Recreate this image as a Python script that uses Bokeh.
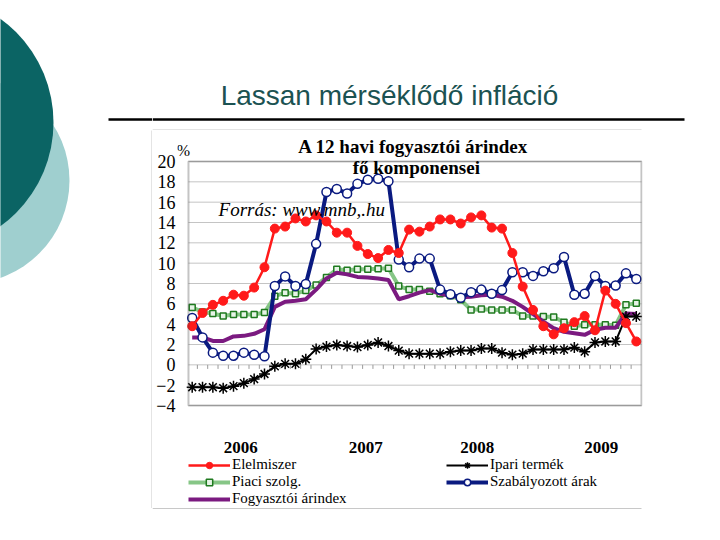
from bokeh.plotting import figure
from bokeh.models import Range1d, Label, Legend, LegendItem, FixedTicker, BoxAnnotation
from bokeh.layouts import row, column
from bokeh.embed import file_html
from bokeh.resources import INLINE
from bokeh.core.properties import value

# ---- data: monthly, Jan 2006 .. Aug 2009 ----
months = list(range(44))
elelmiszer = [3.8, 5.1, 5.9, 6.3, 6.9, 6.8, 7.6, 9.6, 13.4, 13.6, 14.4, 14.1,
              14.7, 14.1, 13.0, 13.0, 11.7, 10.9, 10.5, 11.3, 11.0, 13.3, 13.1, 13.6,
              14.3, 14.3, 13.9, 14.5, 14.7, 13.5, 13.4, 11.0, 7.7, 5.4, 3.8, 3.0,
              3.6, 4.2, 4.8, 3.4, 7.3, 6.0, 4.1, 2.3]
ipari = [-2.2, -2.2, -2.2, -2.3, -2.1, -1.8, -1.4, -0.9, -0.15, 0.1, 0.1, 0.55,
         1.55, 1.8, 1.95, 1.85, 1.75, 1.95, 2.2, 1.85, 1.4, 1.1, 1.1, 1.1,
         1.1, 1.3, 1.4, 1.4, 1.6, 1.6, 1.2, 1.0, 1.1, 1.5, 1.5, 1.5,
         1.5, 1.7, 1.3, 2.2, 2.3, 2.3, 4.75, 4.75]
piaci = [5.65, 5.2, 5.05, 4.8, 4.95, 4.95, 4.95, 5.15, 6.75, 7.1, 7.0, 7.3,
         7.85, 8.6, 9.4, 9.3, 9.4, 9.4, 9.45, 9.5, 7.75, 7.4, 7.4, 7.25,
         7.0, 6.8, 6.4, 5.4, 5.5, 5.4, 5.4, 5.4, 4.8, 4.8, 4.75, 4.7,
         4.2, 3.8, 3.95, 3.95, 3.95, 3.9, 5.9, 6.05]
szabalyozott = [4.6, 2.7, 1.2, 0.9, 0.9, 1.2, 1.0, 0.85, 7.75, 8.7, 7.75, 7.95,
                11.9, 17.0, 17.3, 16.85, 17.8, 18.2, 18.3, 18.05, 10.35, 9.6, 10.45, 10.45,
                7.4, 6.95, 6.6, 7.15, 7.4, 7.0, 7.35, 9.1, 9.1, 8.75, 9.2, 9.5,
                10.6, 6.9, 7.0, 8.75, 7.75, 7.8, 9.0, 8.45]
fogyasztoi = [2.7, 2.7, 2.35, 2.35, 2.8, 2.85, 3.05, 3.5, 5.7, 6.2, 6.3, 6.45,
              7.4, 8.5, 9.05, 8.9, 8.65, 8.6, 8.5, 8.35, 6.45, 6.75, 7.1, 7.35,
              7.0, 6.8, 6.65, 6.7, 6.85, 6.9, 6.7, 6.3, 5.7, 5.0, 4.25, 3.6,
              3.25, 3.1, 2.95, 3.45, 3.65, 3.65, 5.05, 5.0]
years = ["2006", "2007", "2008", "2009"]
year_pos = [4.7, 16.8, 27.6, 39.6]
y_ticks = list(range(-4, 21, 2))
unit_label = "%"

series_labels = ["Elelmiszer", "Piaci szolg.", "Fogyasztói árindex",
                 "Ipari termék", "Szabályozott árak"]
slide_title = "Lassan mérséklődő infláció"
chart_title_1 = "A 12 havi fogyasztói árindex"
chart_title_2 = "fő komponensei"
source_note = "Forrás: www.mnb,.hu"

SERIF = "Liberation Serif"
SANS = "Liberation Sans"
BOX_GRAY = "#c8c8c8"

# layout constants (in axis units)
YEAR_ROW = -8.15
PLOT_X0, PLOT_X1 = months[0] - 0.36, months[-1] + 0.5
PLOT_Y0, PLOT_Y1 = y_ticks[0], y_ticks[-1]

# styles
RED_LINE = dict(line_color="#ff1a1a", line_width=2.5)
RED_PTS = dict(marker="circle", size=9, fill_color="#ff1a1a", line_color="#ff1a1a")
GREEN_LINE = dict(line_color="#86c686", line_width=4)
GREEN_PTS = dict(marker="square", size=6, fill_color="#e6f4e6", line_color="#1f7a1f", line_width=1.5)
PURPLE_LINE = dict(line_color="#7b1a80", line_width=4)
BLACK_LINE = dict(line_color="black", line_width=2)
BLACK_PTS = dict(marker="asterisk", size=11, line_color="black", line_width=1.5)
BLUE_LINE = dict(line_color="#0a1a80", line_width=4)
BLUE_PTS = dict(marker="circle", size=9, fill_color="white", line_color="#0a1a80", line_width=1.5)

# decorative slide circles (page pixel coordinates)
deco_x = [-34, -75]
deco_y = [180, 122]
deco_r = [103, 128]
deco_c = ["#9fcfcf", "#0b6464"]


def deco_fig(w, h, x0, x1, y0, y1):
    f = figure(width=w, height=h, x_range=Range1d(x0, x1), y_range=Range1d(y1, y0),
               x_axis_type=None, y_axis_type=None, toolbar_location=None,
               output_backend="svg", min_border=0, outline_line_color=None,
               frame_align=False)
    f.grid.visible = False
    return f


# ---- left strip: page x 0..152, y 0..540 ----
left = deco_fig(152, 540, 0, 152, 0, 540)
left.circle(x=deco_x, y=deco_y, radius=deco_r, fill_color=deco_c, line_color=None)
left.segment(x0=[108], y0=[119], x1=[152], y1=[119], line_color="black", line_width=2.5)
left.segment(x0=[151.5], y0=[130], x1=[151.5], y1=[507.5], line_color=BOX_GRAY, line_width=1)

# ---- top strip: page x 152..720, y 0..130 ----
top = deco_fig(568, 130, 152, 720, 0, 130)
top.text(x=[389], y=[95], text=[slide_title], text_align="center", text_baseline="middle",
         text_font=value(SANS), text_font_size="28px", text_color="#1b5252")
top.segment(x0=[152], y0=[119], x1=[684], y1=[119], line_color="black", line_width=2.5)
top.segment(x0=[152], y0=[129.5], x1=[641], y1=[129.5], line_color=BOX_GRAY, line_width=1)

# ---- chart: page x 152..720, y 130..507 (frame x 177..642) ----
p = figure(width=568, height=377, x_range=Range1d(-1.423, 43.6), y_range=Range1d(-14.03, 22.95),
           toolbar_location=None, output_backend="svg", frame_align=False,
           x_axis_location=None,
           min_border_left=25, min_border_right=78, min_border_top=1, min_border_bottom=0,
           outline_line_color=None)
p.grid.visible = False

p.yaxis.ticker = FixedTicker(ticks=y_ticks)
p.yaxis.major_tick_out = 0
p.yaxis.major_tick_in = 0
p.yaxis.minor_tick_out = 0
p.yaxis.axis_line_color = None
p.yaxis.major_label_standoff = 2
p.yaxis.major_label_text_font = SERIF
p.yaxis.major_label_text_font_size = "18px"
p.yaxis.major_label_text_color = "black"

# horizontal gridlines, only across the plot area
p.segment(x0=[PLOT_X0] * len(y_ticks), y0=y_ticks, x1=[PLOT_X1] * len(y_ticks), y1=y_ticks,
          line_color="#c4c4c4", line_width=1)

# plot-area frame of the embedded chart
p.add_layout(BoxAnnotation(left=PLOT_X0, right=PLOT_X1, bottom=PLOT_Y0, top=PLOT_Y1,
                           fill_color=None, fill_alpha=0, line_color="#3a3a3a", line_width=2))

# small category ticks on the zero line
tick_x = [m + 0.5 for m in months[:-1]]
p.segment(x0=tick_x, y0=[0] * len(tick_x), x1=tick_x, y1=[-0.4] * len(tick_x),
          line_color="#9a9a9a", line_width=1)

g_line = p.line(months, piaci, **GREEN_LINE)
g_pts = p.scatter(months, piaci, **GREEN_PTS)
pu_line = p.line(months, fogyasztoi, **PURPLE_LINE)
k_line = p.line(months, ipari, **BLACK_LINE)
k_pts = p.scatter(months, ipari, **BLACK_PTS)
b_line = p.line(months, szabalyozott, **BLUE_LINE)
b_pts = p.scatter(months, szabalyozott, **BLUE_PTS)
r_line = p.line(months, elelmiszer, **RED_LINE)
r_pts = p.scatter(months, elelmiszer, **RED_PTS)

# year labels of the category axis
p.text(x=year_pos, y=[YEAR_ROW] * len(years), text=years, text_align="center",
       text_baseline="middle", text_font=value(SERIF), text_font_style="bold",
       text_font_size="17px", text_color="black")

p.add_layout(Label(x=-0.84, y=21.1, text=unit_label, text_align="center",
                   text_baseline="middle", text_font=SERIF, text_font_size="16px",
                   text_color="black"))
p.add_layout(Label(x=21.4, y=21.5, text=chart_title_1, text_align="center",
                   text_baseline="middle", text_font=SERIF, text_font_style="bold",
                   text_font_size="19px", text_color="black"))
p.add_layout(Label(x=21.7, y=19.4, text=chart_title_2, text_align="center",
                   text_baseline="middle", text_font=SERIF, text_font_style="bold",
                   text_font_size="19px", text_color="black"))
p.add_layout(Label(x=2.55, y=15.3, text=source_note, text_align="left",
                   text_baseline="middle", text_font=SERIF, text_font_style="italic",
                   text_font_size="19px", text_color="black"))

# legend: three rows, two columns (one Legend per row for tight row spacing)
legend_rows = [
    [LegendItem(label=series_labels[0], renderers=[r_line, r_pts]),
     LegendItem(label=series_labels[3], renderers=[k_line, k_pts])],
    [LegendItem(label=series_labels[1], renderers=[g_line, g_pts]),
     LegendItem(label=series_labels[4], renderers=[b_line, b_pts])],
    [LegendItem(label=series_labels[2], renderers=[pu_line])],
]
row_offsets = [34, 17, 0]   # screen px above the frame bottom
for items, dy in zip(legend_rows, row_offsets):
    lg = Legend(items=items, location=(11, dy), orientation="horizontal",
                glyph_width=42, glyph_height=16, label_height=16, label_width=214,
                label_standoff=2, spacing=0, padding=0, margin=0,
                label_text_font=SERIF, label_text_font_size="15px", label_text_color="black",
                border_line_color=None, background_fill_alpha=0)
    p.add_layout(lg, "center")

# ---- bottom strip: page x 152..720, y 507..540 ----
bottom = deco_fig(568, 33, 152, 720, 507, 540)
bottom.segment(x0=[152], y0=[508], x1=[641], y1=[508], line_color=BOX_GRAY, line_width=1)

layout = row(left, column(top, p, bottom))
open("out.html", "w").write(file_html(layout, INLINE))
